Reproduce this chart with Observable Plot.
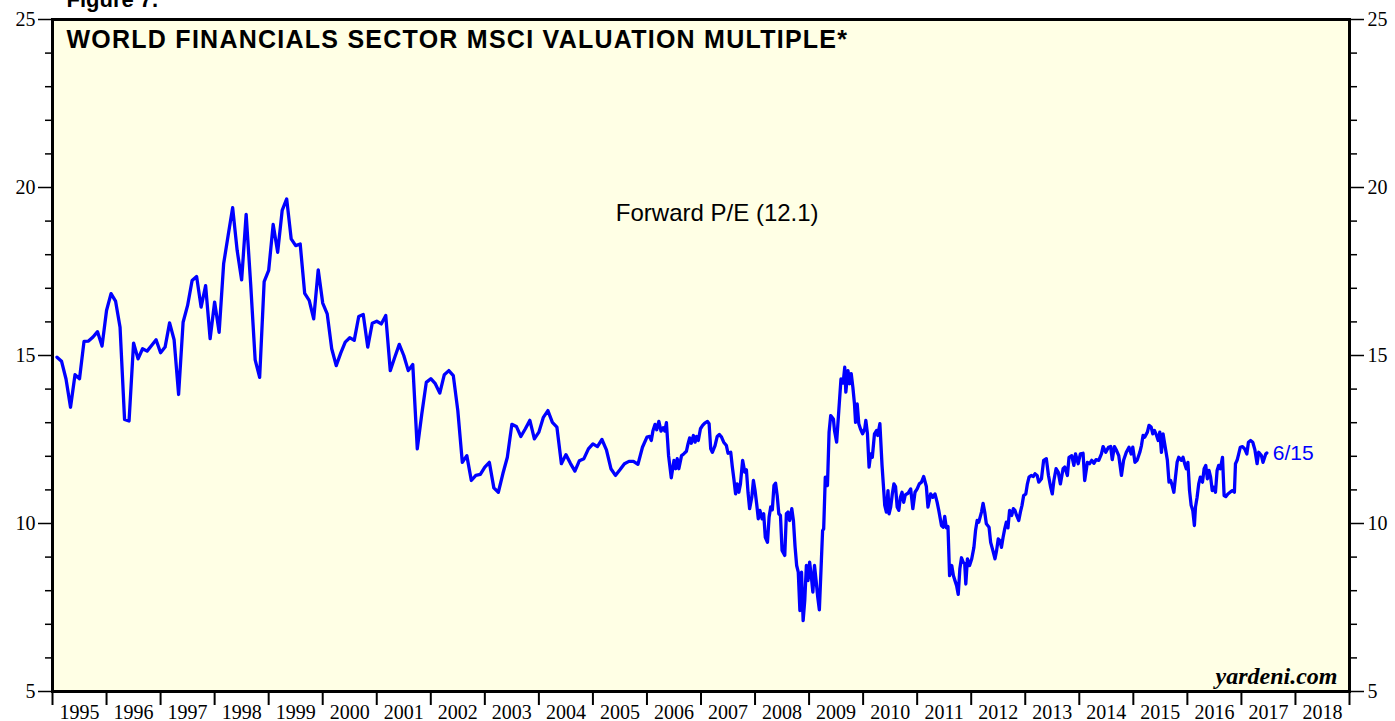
<!DOCTYPE html>
<html><head><meta charset="utf-8">
<script src="https://cdn.jsdelivr.net/npm/d3@7"></script>
<script src="https://cdn.jsdelivr.net/npm/@observablehq/plot@0.6"></script>
<style>html,body{margin:0;padding:0;background:#fff;overflow:hidden}</style>
</head><body><div id="chart"></div>
<script>
const title = "WORLD FINANCIALS SECTOR MSCI VALUATION MULTIPLE*";
const figureLabel = "Figure 7.";
const seriesLabel = "Forward P/E (12.1)";
const lastLabel = "6/15";
const credit = "yardeni.com";
const yMajorTicks = [5, 10, 15, 20, 25];
const yMinorTicks = [6, 7, 8, 9, 11, 12, 13, 14, 16, 17, 18, 19, 21, 22, 23, 24];
const yearLabels = ["1995","1996","1997","1998","1999","2000","2001","2002","2003","2004","2005","2006","2007","2008","2009","2010","2011","2012","2013","2014","2015","2016","2017","2018"];

// Monthly readings, Jan 1995 - Dec 2005 (month-end)
const monthlyStartYear = 1995;
const monthlyValues = [
 14.95,14.83,14.3,13.46,14.43,14.31,15.42,15.43,15.55,15.71,15.28,16.34,
 16.84,16.62,15.84,13.1,13.05,15.37,14.9,15.2,15.13,15.3,15.47,15.08,
 15.25,15.97,15.47,13.84,15.99,16.49,17.23,17.35,16.44,17.08,15.5,16.59,
 15.69,17.73,18.57,19.4,18.13,17.25,19.2,17.13,14.87,14.35,17.2,17.53,
 18.9,18.07,19.32,19.66,18.47,18.27,18.32,16.85,16.64,16.09,17.55,16.56,
 16.24,15.2,14.7,15.07,15.4,15.53,15.45,16.16,16.22,15.25,15.96,16.02,
 15.94,16.19,14.55,14.95,15.33,15.0,14.55,14.73,12.22,13.26,14.2,14.31,
 14.16,13.88,14.43,14.55,14.4,13.36,11.82,12.02,11.28,11.43,11.46,11.68,
 11.82,11.06,10.93,11.48,11.97,12.95,12.89,12.59,12.82,13.07,12.52,12.72,
 13.16,13.36,13.01,12.87,11.78,12.05,11.79,11.56,11.87,11.93,12.22,12.37,
 12.29,12.5,12.19,11.63,11.43,11.6,11.78,11.85,11.85,11.76,12.27,12.57
];

// Weekly readings 2006 - 6/15/2017: [decimal year, forward P/E]
const weeklySeries = [
 [2006.05,12.59],[2006.08,12.47],[2006.11,12.75],[2006.15,12.95],[2006.18,12.79],[2006.22,13.04],[2006.26,12.75],[2006.30,12.85],
 [2006.33,12.75],[2006.36,13.0],[2006.40,12.02],[2006.45,11.36],[2006.50,11.88],[2006.53,11.63],[2006.56,11.93],[2006.59,11.63],
 [2006.64,12.02],[2006.68,12.07],[2006.73,12.15],[2006.76,12.37],[2006.79,12.55],[2006.82,12.39],[2006.86,12.62],[2006.89,12.42],
 [2006.92,12.59],[2006.95,12.47],[2006.99,12.82],[2007.03,12.92],[2007.07,12.99],[2007.12,13.04],[2007.15,12.97],[2007.18,12.22],
 [2007.21,12.12],[2007.26,12.32],[2007.30,12.59],[2007.34,12.65],[2007.38,12.57],[2007.42,12.42],[2007.47,12.32],[2007.50,12.09],
 [2007.55,12.12],[2007.58,11.68],[2007.61,11.3],[2007.64,10.88],[2007.67,11.18],[2007.70,10.93],[2007.73,11.18],[2007.77,11.88],
 [2007.81,11.53],[2007.84,11.6],[2007.87,10.93],[2007.90,10.44],[2007.94,10.78],[2007.97,11.28],[2008.00,10.98],[2008.03,10.59],
 [2008.06,10.14],[2008.09,10.39],[2008.13,10.14],[2008.16,10.29],[2008.19,9.59],[2008.23,9.44],[2008.26,10.19],[2008.29,10.49],
 [2008.32,10.41],[2008.35,11.13],[2008.38,11.2],[2008.41,10.83],[2008.44,10.29],[2008.47,10.24],[2008.50,9.2],[2008.55,9.05],
 [2008.58,10.29],[2008.61,10.34],[2008.64,10.09],[2008.68,10.44],[2008.71,10.09],[2008.74,9.32],[2008.77,8.75],[2008.80,8.55],
 [2008.83,7.41],[2008.86,8.55],[2008.89,7.11],[2008.92,7.71],[2008.95,8.75],[2008.98,8.3],[2009.01,8.85],[2009.04,8.45],
 [2009.07,7.96],[2009.10,8.75],[2009.13,8.3],[2009.16,7.81],[2009.19,7.43],[2009.22,8.6],[2009.25,9.79],[2009.27,9.84],
 [2009.30,11.38],[2009.34,11.13],[2009.37,12.72],[2009.40,13.21],[2009.45,13.11],[2009.47,12.77],[2009.51,12.42],[2009.55,13.36],
 [2009.59,14.3],[2009.63,14.18],[2009.66,14.65],[2009.68,13.91],[2009.72,14.55],[2009.75,14.16],[2009.78,14.46],[2009.81,14.06],
 [2009.84,13.56],[2009.86,13.01],[2009.89,13.56],[2009.92,12.97],[2009.95,12.82],[2009.99,12.67],[2010.03,12.82],[2010.05,13.07],
 [2010.08,12.67],[2010.11,11.68],[2010.14,12.07],[2010.17,11.97],[2010.21,12.67],[2010.25,12.77],[2010.27,12.62],[2010.31,12.97],
 [2010.35,11.73],[2010.40,10.54],[2010.43,10.34],[2010.46,10.98],[2010.48,10.29],[2010.51,10.49],[2010.54,10.88],[2010.57,11.18],
 [2010.60,11.1],[2010.63,10.49],[2010.66,10.39],[2010.69,10.78],[2010.72,10.93],[2010.75,10.63],[2010.78,10.85],[2010.83,10.9],
 [2010.88,11.03],[2010.92,10.44],[2010.96,10.93],[2011.00,11.03],[2011.04,11.18],[2011.08,11.23],[2011.12,11.4],[2011.17,11.1],
 [2011.20,10.49],[2011.25,10.88],[2011.29,10.78],[2011.33,10.88],[2011.37,10.63],[2011.40,10.39],[2011.45,9.94],[2011.48,9.89],
 [2011.51,10.21],[2011.54,9.87],[2011.57,9.91],[2011.60,8.45],[2011.64,8.75],[2011.67,8.45],[2011.70,8.3],[2011.73,8.15],
 [2011.76,7.89],[2011.79,8.65],[2011.82,8.98],[2011.85,8.85],[2011.88,8.8],[2011.90,8.2],[2011.93,8.95],[2011.97,8.75],
 [2012.01,8.95],[2012.05,9.29],[2012.08,9.79],[2012.11,10.09],[2012.14,10.04],[2012.19,10.34],[2012.22,10.6],[2012.25,10.34],
 [2012.28,9.99],[2012.33,9.89],[2012.36,9.44],[2012.40,9.2],[2012.44,8.95],[2012.47,9.2],[2012.50,9.54],[2012.53,9.49],
 [2012.56,9.29],[2012.59,9.59],[2012.62,9.84],[2012.65,10.04],[2012.68,9.87],[2012.71,10.39],[2012.75,10.24],[2012.78,10.44],
 [2012.81,10.39],[2012.84,10.24],[2012.88,10.09],[2012.91,10.34],[2012.94,10.54],[2012.97,10.83],[2013.01,10.88],[2013.04,11.18],
 [2013.07,11.38],[2013.11,11.43],[2013.15,11.4],[2013.18,11.48],[2013.22,11.43],[2013.25,11.23],[2013.30,11.33],[2013.34,11.88],
 [2013.39,11.93],[2013.43,11.43],[2013.47,11.08],[2013.50,10.88],[2013.53,11.28],[2013.57,11.63],[2013.61,11.53],[2013.65,11.18],
 [2013.70,11.63],[2013.73,11.68],[2013.78,11.43],[2013.81,11.97],[2013.86,12.02],[2013.90,11.73],[2013.93,12.07],[2013.98,11.78],
 [2014.02,12.07],[2014.07,12.09],[2014.10,11.28],[2014.15,11.82],[2014.19,11.78],[2014.23,11.88],[2014.27,11.79],[2014.31,11.9],
 [2014.36,11.88],[2014.41,12.07],[2014.44,12.29],[2014.49,12.12],[2014.54,12.27],[2014.58,12.29],[2014.61,11.9],[2014.65,12.29],
 [2014.69,12.17],[2014.73,12.02],[2014.78,11.43],[2014.82,11.88],[2014.87,12.12],[2014.92,12.27],[2014.96,12.07],[2014.99,12.27],
 [2015.03,11.82],[2015.07,11.88],[2015.12,12.12],[2015.15,12.32],[2015.18,12.62],[2015.21,12.57],[2015.26,12.72],[2015.29,12.92],
 [2015.33,12.87],[2015.36,12.67],[2015.39,12.77],[2015.43,12.62],[2015.46,12.47],[2015.49,12.72],[2015.52,12.12],[2015.55,12.67],
 [2015.58,12.37],[2015.63,11.88],[2015.66,11.23],[2015.69,11.28],[2015.72,11.13],[2015.75,10.93],[2015.78,11.38],[2015.81,11.82],
 [2015.84,11.97],[2015.89,11.88],[2015.92,11.97],[2015.95,11.78],[2015.98,11.63],[2016.01,11.82],[2016.04,10.98],[2016.07,10.54],
 [2016.10,10.39],[2016.13,9.94],[2016.15,10.49],[2016.18,10.78],[2016.21,11.18],[2016.24,11.38],[2016.28,11.23],[2016.31,11.63],
 [2016.34,11.73],[2016.37,11.33],[2016.40,11.58],[2016.43,11.38],[2016.46,10.98],[2016.49,11.08],[2016.52,10.93],[2016.55,11.58],
 [2016.58,11.73],[2016.61,11.63],[2016.65,11.97],[2016.68,10.83],[2016.71,10.8],[2016.75,10.88],[2016.79,10.93],[2016.83,10.98],
 [2016.87,10.93],[2016.89,11.78],[2016.92,11.88],[2016.95,12.07],[2016.98,12.27],[2017.02,12.29],[2017.06,12.22],[2017.10,12.07],
 [2017.13,12.42],[2017.17,12.47],[2017.21,12.42],[2017.25,12.19],[2017.29,11.78],[2017.32,12.12],[2017.37,12.02],[2017.40,11.82],
 [2017.45,12.07],[2017.47,12.1]
];

const data = [
  ...monthlyValues.map((v, i) => ({date: monthlyStartYear + (i + 1) / 12, value: v})),
  ...weeklySeries.map(([date, value]) => ({date, value}))
];
const last = data[data.length - 1];
const yearTicks = yearLabels.map(Number).concat(Number(yearLabels[yearLabels.length - 1]) + 1);

const sans = "'Liberation Sans', Arial, Helvetica, sans-serif";
const serif = "'Liberation Serif', 'Times New Roman', serif";

const chart = Plot.plot({
  width: 1395, height: 721,
  marginLeft: 52, marginRight: 46, marginTop: 19, marginBottom: 30,
  x: {domain: [1995, 2019]},
  y: {domain: [5, 25]},
  style: {fontFamily: serif, background: "white", color: "black"},
  marks: [
    Plot.frame({fill: "#ffffe5", stroke: null}),
    Plot.line(data, {x: "date", y: "value", stroke: "#0000ff", strokeWidth: 3.3, strokeLinejoin: "round"}),
    Plot.text([seriesLabel], {x: () => 2007.3, y: () => 19.22, text: d => d, fontFamily: sans, fontSize: 24, fill: "black"}),
    Plot.text([last], {x: "date", y: "value", text: () => lastLabel, textAnchor: "start", dx: 6, fill: "#0000ff", fontFamily: sans, fontSize: 21}),
    Plot.text([title], {frameAnchor: "top-left", text: d => d, dx: 14, dy: 11, lineAnchor: "top", textAnchor: "start", fontFamily: sans, fontWeight: "bold", fontSize: 25, fill: "black", className: "ttl"}),
    Plot.text([figureLabel], {frameAnchor: "top-left", text: d => d, dx: 14, dy: -13, lineAnchor: "bottom", textAnchor: "start", fontFamily: sans, fontWeight: "bold", fontSize: 22, fill: "black"}),
    Plot.text([credit], {frameAnchor: "bottom-right", text: d => d, dx: -12, dy: -8, lineAnchor: "bottom", textAnchor: "end", fontFamily: serif, fontWeight: "bold", fontStyle: "italic", fontSize: 24, fill: "black"}),
    Plot.axisY(yMajorTicks, {anchor: "left", tickSize: 14, tickPadding: 3, fontSize: 20, strokeWidth: 1.5, label: null}),
    Plot.axisY(yMinorTicks, {anchor: "left", tickSize: 7, tickFormat: () => "", strokeWidth: 1.5, label: null}),
    Plot.axisY(yMajorTicks, {anchor: "right", tickSize: 14, tickPadding: 4, fontSize: 20, strokeWidth: 1.5, label: null}),
    Plot.axisY(yMinorTicks, {anchor: "right", tickSize: 7, tickFormat: () => "", strokeWidth: 1.5, label: null}),
    Plot.axisX(yearTicks, {anchor: "bottom", tickSize: 14, tickFormat: () => "", strokeWidth: 2, label: null}),
    Plot.text(yearLabels, {x: d => +d + 0.5, frameAnchor: "bottom", text: d => d, dy: 13, lineAnchor: "top", fontSize: 20, fontFamily: serif, fill: "black"}),
    Plot.frame({stroke: "black", strokeWidth: 3})
  ]
});
d3.select(chart).selectAll(".ttl text").style("letter-spacing", "1.25px");
document.getElementById("chart").appendChild(chart);
</script>
</body></html>
